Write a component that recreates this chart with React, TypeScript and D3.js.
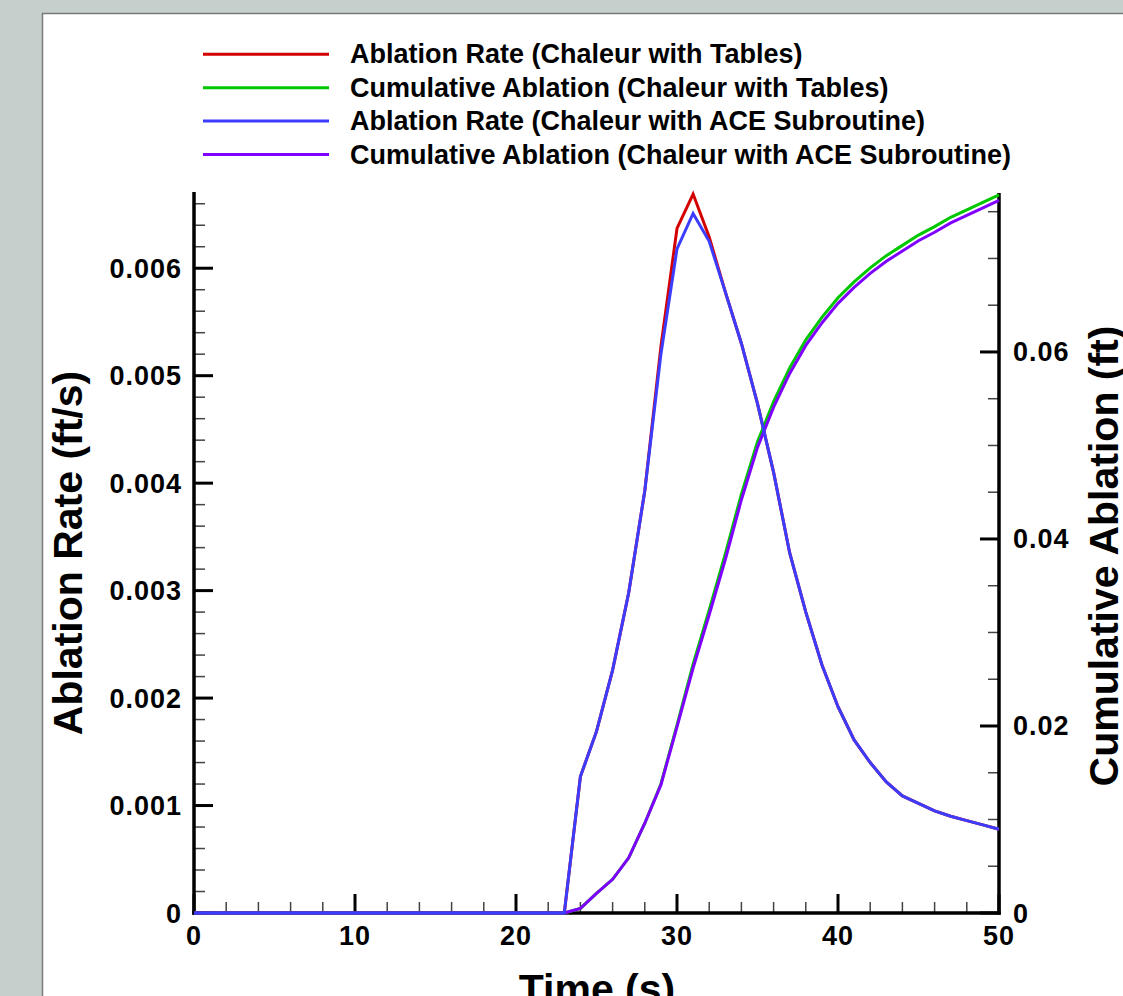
import React from "react";
import * as d3 from "d3";

const time = [0,1,2,3,4,5,6,7,8,9,10,11,12,13,14,15,16,17,18,19,20,21,22,23,24,25,26,27,28,29,30,31,32,33,34,35,36,37,38,39,40,41,42,43,44,45,46,47,48,49,50];

const rateTables = [0,0,0,0,0,0,0,0,0,0,0,0,0,0,0,0,0,0,0,0,0,0,0,0,
  0.00127,0.00169,0.00226,0.00298,0.00393,0.00527,0.00637,0.00669,0.00629,0.00578,
  0.00530,0.00474,0.00410,0.00335,0.00280,0.00231,0.00192,0.00161,0.00140,0.00122,
  0.00109,0.00102,0.00095,0.00090,0.00086,0.00082,0.00078];

const cumTables = [0,0,0,0,0,0,0,0,0,0,0,0,0,0,0,0,0,0,0,0,0,0,0,0,
  0.0005,0.0021,0.0036,0.0059,0.0096,0.0138,0.0201,0.0266,0.0324,0.0384,
  0.0448,0.0504,0.0547,0.0583,0.0613,0.0637,0.0658,0.0675,0.0690,0.0703,
  0.0714,0.0725,0.0734,0.0744,0.0752,0.0760,0.0768];

const rateAce = [0,0,0,0,0,0,0,0,0,0,0,0,0,0,0,0,0,0,0,0,0,0,0,0,
  0.00127,0.00169,0.00226,0.00298,0.00393,0.00520,0.00618,0.00651,0.00625,0.00578,
  0.00530,0.00474,0.00410,0.00335,0.00280,0.00231,0.00192,0.00161,0.00140,0.00122,
  0.00109,0.00102,0.00095,0.00090,0.00086,0.00082,0.00078];

const cumAce = [0,0,0,0,0,0,0,0,0,0,0,0,0,0,0,0,0,0,0,0,0,0,0,0,
  0.0005,0.0021,0.0036,0.0059,0.0096,0.0137,0.0199,0.0262,0.0319,0.0378,
  0.0442,0.0498,0.0541,0.0577,0.0607,0.0631,0.0652,0.0669,0.0684,0.0697,
  0.0708,0.0719,0.0728,0.0738,0.0746,0.0754,0.0762];

const legendLabels = [
  "Ablation Rate (Chaleur with Tables)",
  "Cumulative Ablation (Chaleur with Tables)",
  "Ablation Rate (Chaleur with ACE Subroutine)",
  "Cumulative Ablation (Chaleur with ACE Subroutine)",
];
const colors = ["#d40000", "#00c800", "#3c3cff", "#8000ff"];

const xMajor = [0, 10, 20, 30, 40, 50];
const leftMajor = [0, 0.001, 0.002, 0.003, 0.004, 0.005, 0.006];
const leftLabels = ["0", "0.001", "0.002", "0.003", "0.004", "0.005", "0.006"];
const rightMajor = [0, 0.02, 0.04, 0.06];
const rightLabels = ["0", "0.02", "0.04", "0.06"];

const W = 1123, H = 996;
const L = 194, R = 999, T = 193, B = 913;
const FONT = "'Liberation Sans', Arial, Helvetica, sans-serif";

export default function App() {
  const x = d3.scaleLinear().domain([0, 50]).range([L, R]);
  const yL = d3.scaleLinear().domain([0, 0.0067]).range([B, T]);
  const yR = d3.scaleLinear().domain([0, 0.077]).range([B, T]);

  const lineL = (vals: number[]) =>
    d3.line<number>().x((_, i) => x(time[i])).y((v) => yL(v))(vals) || "";
  const lineR = (vals: number[]) =>
    d3.line<number>().x((_, i) => x(time[i])).y((v) => yR(v))(vals) || "";

  const xMinor = d3.range(0, 50.001, 2).filter((v) => v % 10 !== 0);
  const leftMinor = d3.range(0, 0.00661, 0.0002).filter((v) => Math.abs(v / 0.001 - Math.round(v / 0.001)) > 1e-6);
  const rightMinor = d3.range(0, 0.0751, 0.005).filter((v) => Math.abs(v / 0.02 - Math.round(v / 0.02)) > 1e-6);

  const series = [
    { d: lineL(rateTables), c: colors[0] },
    { d: lineR(cumTables), c: colors[1] },
    { d: lineR(cumAce), c: colors[3] },
    { d: lineL(rateAce), c: colors[2] },
  ];

  const tickText = { fontFamily: FONT, fontWeight: 700, fontSize: 27, letterSpacing: 1 } as const;

  return (
    <svg width={W} height={H} style={{ position: "absolute", left: 0, top: 0 }}>
      <rect x={0} y={0} width={W} height={H} fill="#c5d0cc" />
      <rect x={42.5} y={13.5} width={W + 20} height={H + 20} fill="#ffffff" stroke="#7a7a7a" strokeWidth={1.5} />

      {/* legend */}
      {legendLabels.map((lab, i) => {
        const ly = 54.3 + i * 33.4;
        return (
          <g key={lab}>
            <line x1={203} x2={329} y1={ly} y2={ly} stroke={colors[i]} strokeWidth={3} />
            <text x={350} y={ly + 9} fontFamily={FONT} fontWeight={700} fontSize={27} fill="#000">
              {lab}
            </text>
          </g>
        );
      })}

      {/* minor ticks */}
      {xMinor.map((v) => (
        <line key={"xm" + v} x1={x(v)} x2={x(v)} y1={B} y2={B - 11} stroke="#444" strokeWidth={1.5} />
      ))}
      {leftMinor.map((v) => (
        <line key={"lm" + v} x1={L} x2={L + 11} y1={yL(v)} y2={yL(v)} stroke="#444" strokeWidth={1.5} />
      ))}
      {rightMinor.map((v) => (
        <line key={"rm" + v} x1={R} x2={R - 11} y1={yR(v)} y2={yR(v)} stroke="#444" strokeWidth={1.5} />
      ))}
      {/* major ticks */}
      {xMajor.map((v) => (
        <line key={"xM" + v} x1={x(v)} x2={x(v)} y1={B} y2={B - 19} stroke="#000" strokeWidth={3} />
      ))}
      {leftMajor.map((v) => (
        <line key={"lM" + v} x1={L} x2={L + 19} y1={yL(v)} y2={yL(v)} stroke="#000" strokeWidth={3} />
      ))}
      {rightMajor.map((v) => (
        <line key={"rM" + v} x1={R} x2={R - 19} y1={yR(v)} y2={yR(v)} stroke="#000" strokeWidth={3} />
      ))}

      {/* axis lines */}
      <line x1={L} x2={L} y1={T - 1} y2={B + 1.75} stroke="#000" strokeWidth={3.5} />
      <line x1={R} x2={R} y1={T} y2={B + 1.75} stroke="#000" strokeWidth={3.5} />
      <line x1={L - 1.75} x2={R + 1.75} y1={B} y2={B} stroke="#000" strokeWidth={3.5} />

      {/* series */}
      {series.map((s, i) => (
        <path key={i} d={s.d} fill="none" stroke={s.c} strokeWidth={3} strokeLinejoin="miter" />
      ))}

      {/* tick labels */}
      {xMajor.map((v) => (
        <text key={"xl" + v} x={x(v)} y={945} textAnchor="middle" {...tickText}>
          {String(v)}
        </text>
      ))}
      {leftMajor.map((v, i) => (
        <text key={"ll" + v} x={182} y={yL(v) + 9.5} textAnchor="end" {...tickText}>
          {leftLabels[i]}
        </text>
      ))}
      {rightMajor.map((v, i) => (
        <text key={"rl" + v} x={1013} y={yR(v) + 9.5} textAnchor="start" {...tickText}>
          {rightLabels[i]}
        </text>
      ))}

      {/* axis titles */}
      <text
        transform={`translate(82,553) rotate(-90)`}
        textAnchor="middle"
        fontFamily={FONT}
        fontWeight={700}
        fontSize={41}
      >
        Ablation Rate (ft/s)
      </text>
      <text
        transform={`translate(1118,556) rotate(-90)`}
        textAnchor="middle"
        fontFamily={FONT}
        fontWeight={700}
        fontSize={41}
      >
        Cumulative Ablation (ft)
      </text>
      <text x={597} y={1003} textAnchor="middle" fontFamily={FONT} fontWeight={700} fontSize={41}>
        Time (s)
      </text>
    </svg>
  );
}
